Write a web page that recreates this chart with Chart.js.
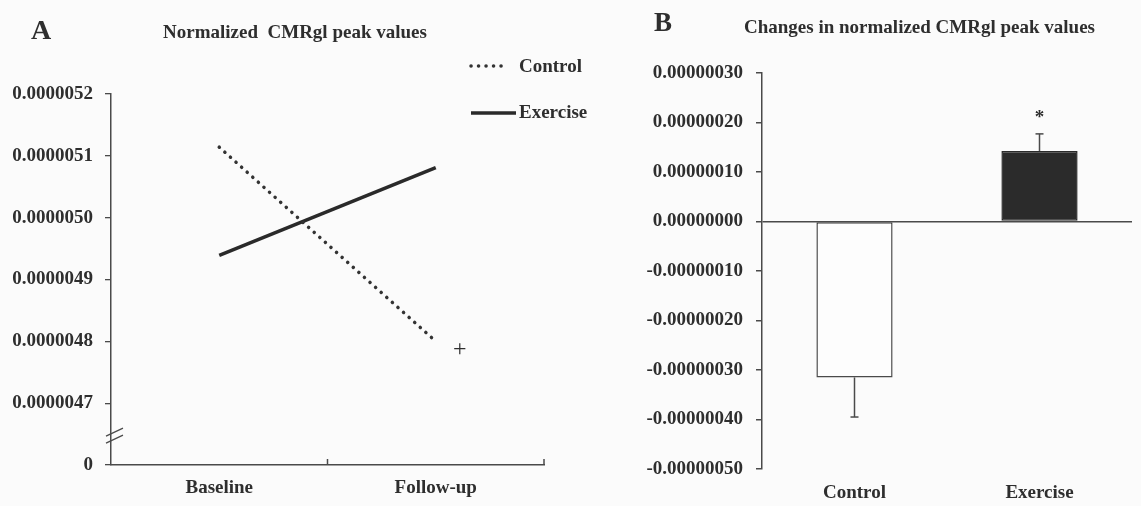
<!DOCTYPE html>
<html><head><meta charset="utf-8">
<script src="https://cdn.jsdelivr.net/npm/chart.js@4"></script>
<style>
html,body{margin:0;padding:0}
body{background:#fbfbfb;width:1141px;height:506px;overflow:hidden;position:relative;font-family:"Liberation Serif","Times New Roman",serif;font-weight:bold;color:#2e2e2e}
#wa{position:absolute;left:0;top:0;width:600px;height:506px}
#wb{position:absolute;left:600px;top:0;width:541px;height:506px}
.t{position:absolute;white-space:nowrap;line-height:1}
</style></head><body>
<div id="wa"><canvas id="ca"></canvas></div>
<div id="wb"><canvas id="cb"></canvas></div>
<div class="t" style="left:31px;top:16px;font-size:28px">A</div>
<div class="t" style="left:163px;top:22px;font-size:19px">Normalized&nbsp; CMRgl peak values</div>
<div class="t" style="left:519px;top:56px;font-size:19px">Control</div>
<div class="t" style="left:519px;top:102px;font-size:19px">Exercise</div>
<div class="t" style="left:654px;top:9px;font-size:27px">B</div>
<div class="t" style="left:744px;top:17px;font-size:19px">Changes in normalized CMRgl peak values</div>
<script>
// ---- Panel A data ----
const periods = ['Baseline', 'Follow-up'];
const controlA = [5.114e-6, 4.80e-6];
const exerciseA = [4.939e-6, 5.081e-6];
const marksA = ['', '+'];
const yTickValsA = [4.6e-6, 4.7e-6, 4.8e-6, 4.9e-6, 5.0e-6, 5.1e-6, 5.2e-6];
const yTickLabelsA = ['0', '0.0000047', '0.0000048', '0.0000049', '0.0000050', '0.0000051', '0.0000052'];

// ---- Panel B data ----
const groups = ['Control', 'Exercise'];
const changeB = [-3.15e-7, 1.425e-7];
const semB = [0.8e-7, 0.345e-7];
const sigB = ['', '*'];
const yTickValsB = [-5e-7, -4e-7, -3e-7, -2e-7, -1e-7, 0, 1e-7, 2e-7, 3e-7];
const yTickLabelsB = ['-0.00000050', '-0.00000040', '-0.00000030', '-0.00000020', '-0.00000010', '0.00000000', '0.00000010', '0.00000020', '0.00000030'];

const INK = '#2e2e2e';
const AX = '#4a4a4a';
const FONT = {family: '"Liberation Serif","Times New Roman",serif', weight: 'bold', size: 19};

const plugA = {
  id: 'plugA',
  afterDraw(chart) {
    const ctx = chart.ctx, xs = chart.scales.x, ys = chart.scales.y, ca = chart.chartArea;
    ctx.save();
    // upward x ticks at category boundaries
    ctx.strokeStyle = AX; ctx.lineWidth = 1.5;
    const p0 = xs.getPixelForValue(0), p1 = xs.getPixelForValue(1);
    [ (p0 + p1) / 2, ca.right ].forEach(x => {
      ctx.beginPath(); ctx.moveTo(x, ca.bottom); ctx.lineTo(x, ca.bottom - 6); ctx.stroke();
    });
    // axis break
    const yb = (ys.getPixelForValue(yTickValsA[0]) + ys.getPixelForValue(yTickValsA[1])) / 2 + 5;
    ctx.strokeStyle = AX; ctx.lineWidth = 1.3;
    ctx.beginPath(); ctx.moveTo(ca.left - 5, yb + 4); ctx.lineTo(ca.left + 12, yb - 4); ctx.stroke();
    ctx.beginPath(); ctx.moveTo(ca.left - 5, yb - 3); ctx.lineTo(ca.left + 12, yb - 11); ctx.stroke();
    // marks
    ctx.fillStyle = INK; ctx.font = 'normal 24px "Liberation Serif", serif';
    ctx.textAlign = 'center'; ctx.textBaseline = 'middle';
    marksA.forEach((m, i) => {
      if (!m) return;
      ctx.fillText(m, xs.getPixelForValue(i) + 24, ys.getPixelForValue(controlA[i]) + 8);
    });
    // legend samples
    const ds = chart.data.datasets;
    [[ds[0], 66, 508], [ds[1], 113, 516]].forEach(([d, y, x2]) => {
      ctx.strokeStyle = d.borderColor; ctx.lineWidth = d.borderWidth;
      ctx.lineCap = d.borderCapStyle || 'butt';
      ctx.setLineDash(d.borderDash || []);
      ctx.beginPath(); ctx.moveTo(471, y); ctx.lineTo(x2, y); ctx.stroke();
    });
    ctx.restore();
  }
};

new Chart(document.getElementById('ca'), {
  type: 'line',
  data: {
    labels: periods,
    datasets: [
      {label: 'Control', data: controlA, borderColor: '#333', borderWidth: 3.5, borderDash: [0.1, 7.4], borderCapStyle: 'round', pointRadius: 0, fill: false},
      {label: 'Exercise', data: exerciseA, borderColor: '#2a2a2a', borderWidth: 3.6, pointRadius: 0, fill: false}
    ]
  },
  options: {
    responsive: true, maintainAspectRatio: false, animation: false, events: [],
    layout: {padding: {left: 0, right: 56, top: 94, bottom: 0}},
    plugins: {legend: {display: false}, tooltip: {enabled: false}},
    scales: {
      x: {
        offset: true,
        grid: {display: false, drawTicks: false},
        border: {display: true, color: AX, width: 1.5},
        ticks: {font: FONT, color: INK, padding: 12, maxRotation: 0},
        afterFit(s) { s.height = 41; }
      },
      y: {
        min: yTickValsA[0], max: yTickValsA[yTickValsA.length - 1],
        afterBuildTicks(s) { s.ticks = yTickValsA.map(v => ({value: v})); },
        ticks: {font: FONT, color: INK, padding: 12, callback: (v, i) => yTickLabelsA[i]},
        grid: {drawOnChartArea: false, drawTicks: true, tickLength: 6, color: AX, lineWidth: 1.3},
        border: {display: true, color: AX, width: 1.5},
        afterFit(s) { s.width = 111; }
      }
    }
  },
  plugins: [plugA]
});

const plugB = {
  id: 'plugB',
  afterDatasetsDraw(chart) {
    const ctx = chart.ctx, ys = chart.scales.y, meta = chart.getDatasetMeta(0);
    ctx.save();
    ctx.strokeStyle = AX; ctx.lineWidth = 1.5;
    changeB.forEach((v, i) => {
      const x = meta.data[i].x;
      const s = v < 0 ? -1 : 1;
      const y0 = ys.getPixelForValue(v), y1 = ys.getPixelForValue(v + s * semB[i]);
      ctx.beginPath(); ctx.moveTo(x, y0); ctx.lineTo(x, y1); ctx.stroke();
      ctx.beginPath(); ctx.moveTo(x - 4, y1); ctx.lineTo(x + 4, y1); ctx.stroke();
      if (sigB[i]) {
        ctx.fillStyle = INK; ctx.font = 'bold 19px "Liberation Serif", serif';
        ctx.textAlign = 'center'; ctx.textBaseline = 'middle';
        ctx.fillText(sigB[i], x, y1 - 16);
      }
    });
    ctx.restore();
  }
};

new Chart(document.getElementById('cb'), {
  type: 'bar',
  data: {
    labels: groups,
    datasets: [{
      label: 'Change', data: changeB,
      backgroundColor: ['#fdfdfd', '#2b2b2b'],
      borderColor: ['#4a4a4a', '#2b2b2b'],
      borderWidth: 1.5, borderSkipped: false,
      barPercentage: 0.412, categoryPercentage: 1
    }]
  },
  options: {
    responsive: true, maintainAspectRatio: false, animation: false, events: [],
    layout: {padding: {left: 0, right: 9, top: 73, bottom: 0}},
    plugins: {legend: {display: false}, tooltip: {enabled: false}},
    scales: {
      x: {
        grid: {display: false, drawTicks: false},
        border: {display: false},
        ticks: {font: FONT, color: INK, padding: 13, maxRotation: 0},
        afterFit(s) { s.height = 37; }
      },
      y: {
        min: yTickValsB[0], max: yTickValsB[yTickValsB.length - 1],
        afterBuildTicks(s) { s.ticks = yTickValsB.map(v => ({value: v})); },
        ticks: {font: FONT, color: INK, padding: 13, callback: (v, i) => yTickLabelsB[i]},
        grid: {drawOnChartArea: true, drawTicks: true, tickLength: 6, lineWidth: 1.5,
               color: c => (c.tick && c.tick.value === 0) ? AX : 'rgba(0,0,0,0)', tickColor: AX},
        border: {display: true, color: AX, width: 1.5},
        afterFit(s) { s.width = 162; }
      }
    }
  },
  plugins: [plugB]
});
</script>
</body></html>
